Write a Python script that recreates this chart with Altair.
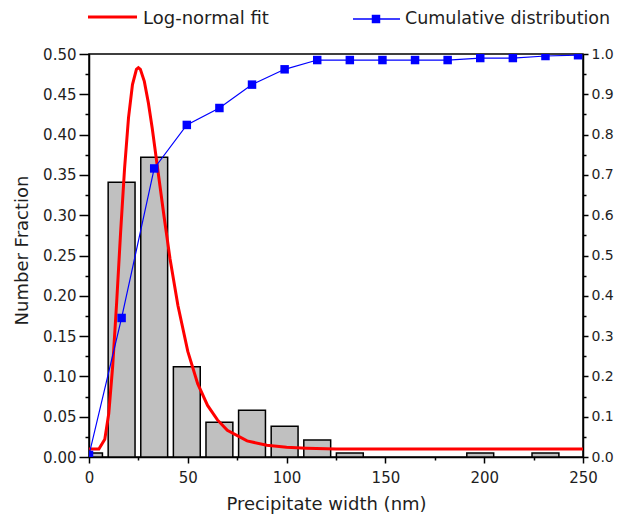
import altair as alt
import pandas as pd

# ---- data ----
# histogram: bin centres (nm) and number fraction
bin_center = [0, 16.5, 33, 49.5, 66, 82.5, 99, 115.5, 132, 198, 231]
bin_fraction = [0.005, 0.341, 0.372, 0.112, 0.043, 0.058, 0.038, 0.021, 0.005, 0.005, 0.005]
BAR_HALF = 6.8  # half bar width in nm

# log-normal fit curve (left axis)
fit_x = [0, 5, 8, 10, 12, 14, 16, 18, 20, 22, 24, 25, 26, 28, 30, 32, 35, 38, 41,
         45, 50, 55, 60, 65, 70, 80, 90, 100, 110, 125, 150, 200, 250]
fit_y = [0.010, 0.010, 0.022, 0.054, 0.113, 0.192, 0.279, 0.358, 0.421, 0.462, 0.481,
         0.483, 0.481, 0.466, 0.440, 0.408, 0.353, 0.298, 0.246, 0.188, 0.131, 0.091,
         0.064, 0.046, 0.033, 0.020, 0.0145, 0.012, 0.011, 0.010, 0.010, 0.010, 0.010]

# cumulative distribution (right axis)
cum_x = [0, 16.5, 33, 49.5, 66, 82.5, 99, 115.5, 132, 148.5, 165, 181.5, 198, 214.5, 231, 247.5]
cum_y = [0.005, 0.345, 0.716, 0.824, 0.866, 0.924, 0.962, 0.985, 0.985, 0.985, 0.985,
         0.985, 0.99, 0.99, 0.995, 0.997]

x_ticks = [0, 25, 50, 75, 100, 125, 150, 175, 200, 225, 250]
yl_ticks = [0.0, 0.025, 0.05, 0.075, 0.1, 0.125, 0.15, 0.175, 0.2, 0.225, 0.25, 0.275,
            0.3, 0.325, 0.35, 0.375, 0.4, 0.425, 0.45, 0.475, 0.5]
yr_ticks = [0.0, 0.05, 0.1, 0.15, 0.2, 0.25, 0.3, 0.35, 0.4, 0.45, 0.5, 0.55, 0.6, 0.65,
            0.7, 0.75, 0.8, 0.85, 0.9, 0.95, 1.0]

FONT = "DejaVu Sans"
TXT = "#1e1e1e"

bars_df = pd.DataFrame({"center": bin_center, "fraction": bin_fraction})
fit_df = pd.DataFrame({"x": fit_x, "y": fit_y})
cum_df = pd.DataFrame({"x": cum_x, "c": cum_y})
leg_df = pd.DataFrame({"k": [0]})

x_scale = alt.Scale(domain=[0, 250], nice=False, zero=False)
yl_scale = alt.Scale(domain=[0, 0.5], nice=False)
yr_scale = alt.Scale(domain=[0, 1.0], nice=False)

x_axis = alt.Axis(
    title="Precipitate width (nm)", values=x_ticks,
    labelExpr="datum.value % 50 === 0 ? datum.label : ''",
    tickSize={"condition": {"test": "datum.value % 50 === 0", "value": 6}, "value": 3},
    labelPadding=7, labelFlush=False, labelOverlap=False,
    titleX=237, titleY=47, titleAlign="center", titleBaseline="middle",
)
yl_axis = alt.Axis(
    title="Number Fraction", values=yl_ticks, orient="left",
    labelExpr="round(datum.value * 40) % 2 === 0 ? format(datum.value, '.2f') : ''",
    tickSize={"condition": {"test": "round(datum.value * 40) % 2 === 0", "value": 10}, "value": 4},
    labelPadding=3, labelOverlap=False, labelFlush=False,
    titleX=-67, titleY=196, titleAngle=270, titleAlign="center", titleBaseline="middle",
)
yr_axis = alt.Axis(
    title=None, values=yr_ticks, orient="right",
    labelExpr="round(datum.value * 20) % 2 === 0 ? format(datum.value, '.1f') : ''",
    tickSize={"condition": {"test": "round(datum.value * 20) % 2 === 0", "value": 5}, "value": 3},
    labelPadding=3, labelOverlap=False, labelFlush=False, labelFontSize=14,
)

bars = alt.Chart(bars_df).transform_calculate(
    lo=f"datum.center - {BAR_HALF}", hi=f"datum.center + {BAR_HALF}"
).mark_bar(fill="#c0c0c0", stroke="black", strokeWidth=1.5, clip=True).encode(
    x=alt.X("lo:Q", scale=x_scale, axis=x_axis),
    x2="hi:Q",
    y=alt.Y("fraction:Q", scale=yl_scale, axis=yl_axis),
    y2=alt.datum(0),
)

fit = alt.Chart(fit_df).mark_line(color="#ff0000", strokeWidth=3, clip=True).encode(
    x=alt.X("x:Q", scale=x_scale, axis=x_axis),
    y=alt.Y("y:Q", scale=yl_scale, axis=yl_axis),
)

cum_line = alt.Chart(cum_df).mark_line(color="#0000ff", strokeWidth=1.2, clip=True).encode(
    x=alt.X("x:Q", scale=x_scale, axis=x_axis),
    y=alt.Y("c:Q", scale=yr_scale, axis=yr_axis),
)
cum_pts = alt.Chart(cum_df).mark_square(color="#0000ff", size=72, opacity=1, clip=True).encode(
    x=alt.X("x:Q", scale=x_scale, axis=x_axis),
    y=alt.Y("c:Q", scale=yr_scale, axis=yr_axis),
)

left = alt.layer(bars, fit)
right = alt.layer(cum_line, cum_pts)

# legend drawn at the top
leg_red_line = alt.Chart(leg_df).mark_rule(color="#ff0000", strokeWidth=3).encode(
    x=alt.value(-1), x2=alt.value(48), y=alt.value(-37))
leg_red_text = alt.Chart(leg_df).mark_text(
    text="Log-normal fit", align="left", baseline="middle", font=FONT, fontSize=18, color=TXT
).encode(x=alt.value(54), y=alt.value(-35))
leg_blue_line = alt.Chart(leg_df).mark_rule(color="#0000ff", strokeWidth=1.5).encode(
    x=alt.value(264), x2=alt.value(311), y=alt.value(-35))
leg_blue_sq = alt.Chart(leg_df).mark_square(color="#0000ff", size=72, opacity=1).encode(
    x=alt.value(287), y=alt.value(-35))
leg_blue_text = alt.Chart(leg_df).mark_text(
    text="Cumulative distribution", align="left", baseline="middle", font=FONT, fontSize=17.5, color=TXT
).encode(x=alt.value(316), y=alt.value(-35))

chart = alt.layer(
    left, right, leg_red_line, leg_red_text, leg_blue_line, leg_blue_sq, leg_blue_text
).resolve_scale(y="independent").properties(
    width=494, height=403,
    autosize=alt.AutoSizeParams(type="none"),
    padding={"left": 81, "top": 46, "right": 31, "bottom": 57},
).configure_view(
    stroke="black", strokeWidth=1.5
).configure_axis(
    domainColor="black", domainWidth=1.5, tickColor="black", tickWidth=1.5,
    labelFont=FONT, labelFontSize=15, labelColor=TXT,
    titleFont=FONT, titleFontSize=18, titleColor=TXT, titleFontWeight="normal",
    grid=False,
)

chart.save("out.html", embed_options={"renderer": "svg", "actions": False})
